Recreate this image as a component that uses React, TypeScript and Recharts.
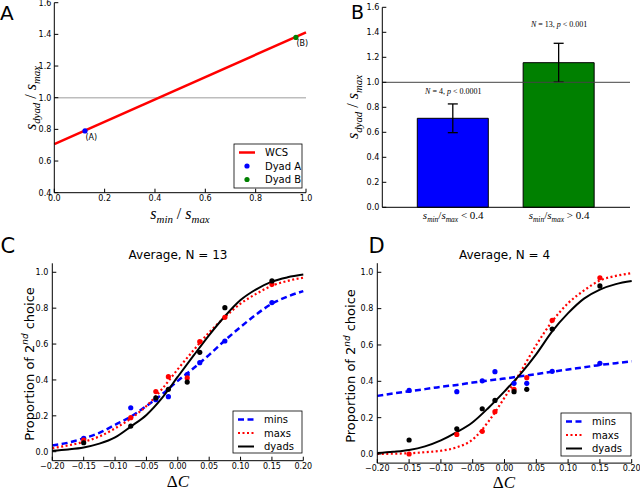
import React from 'react';
import {
  ComposedChart,
  BarChart,
  Bar,
  Cell,
  ErrorBar,
  Line,
  Scatter,
  XAxis,
  YAxis,
  ReferenceLine,
  ReferenceDot,
} from 'recharts';

// ---- panel A: s_dyad/s_max against s_min/s_max
const ratioTicks = [0, 0.2, 0.4, 0.6, 0.8, 1.0];
const dyadRatioTicks = [0.4, 0.6, 0.8, 1.0, 1.2, 1.4, 1.6];
const wcsX = [0, 1];
const wcsY = [0.707, 1.413];
const dyadA = [{ x: 0.122, y: 0.79, tag: '(A)' }];
const dyadB = [{ x: 0.96, y: 1.381, tag: '(B)' }];

// ---- panel B: group means
const groupNames = ['low', 'high'];
const groupRelation = ['<', '>'];
const groupMeans = [0.712, 1.157];
const groupErrors = [0.115, 0.155];
const groupNotes = ['N = 4, p < 0.0001', 'N = 13, p < 0.001'];
const groupNoteY = [0.906, 1.442];
const groupColors = ['#0000ff', '#008000'];
const barTicks = [0, 0.2, 0.4, 0.6, 0.8, 1.0, 1.2, 1.4, 1.6];

// ---- panels C and D: psychometric curves
const deltaTicks = [-0.2, -0.15, -0.1, -0.05, 0, 0.05, 0.1, 0.15, 0.2];
const propTicks = [0, 0.2, 0.4, 0.6, 0.8, 1.0];
const deltaC = [-0.15, -0.075, -0.035, -0.015, 0.015, 0.035, 0.075, 0.15];
const fitX = [
  -0.2, -0.175, -0.15, -0.125, -0.1, -0.075, -0.05, -0.025, 0,
  0.025, 0.05, 0.075, 0.1, 0.125, 0.15, 0.175, 0.2,
];

const cMins = [0.075, 0.245, 0.29, 0.307, 0.43, 0.496, 0.617, 0.831];
const cMaxs = [0.065, 0.19, 0.335, 0.418, 0.411, 0.613, 0.749, 0.933];
const cDyads = [0.05, 0.143, 0.3, 0.348, 0.388, 0.554, 0.803, 0.952];
const cMinsFit = [
  0.035, 0.05, 0.075, 0.105, 0.15, 0.195, 0.255, 0.32, 0.395,
  0.465, 0.54, 0.62, 0.695, 0.765, 0.825, 0.865, 0.895,
];
const cMaxsFit = [
  0.02, 0.035, 0.055, 0.085, 0.13, 0.185, 0.255, 0.35, 0.46,
  0.565, 0.665, 0.75, 0.825, 0.88, 0.925, 0.952, 0.97,
];
const cDyadsFit = [
  0.006, 0.013, 0.024, 0.045, 0.08, 0.14, 0.205, 0.3, 0.418,
  0.535, 0.65, 0.755, 0.845, 0.905, 0.948, 0.972, 0.987,
];

const dMins = [0.35, 0.343, 0.403, 0.453, 0.389, 0.389, 0.455, 0.499];
const dMaxs = [0.0, 0.108, 0.125, 0.233, 0.356, 0.42, 0.736, 0.97];
const dDyads = [0.077, 0.139, 0.249, 0.295, 0.343, 0.356, 0.688, 0.925];
const dMinsFit = [
  0.32, 0.333, 0.345, 0.357, 0.37, 0.38, 0.393, 0.405, 0.415,
  0.428, 0.44, 0.453, 0.465, 0.477, 0.49, 0.5, 0.51,
];
const dMaxsFit = [
  0.0, 0.002, 0.004, 0.01, 0.018, 0.037, 0.08, 0.18, 0.31,
  0.45, 0.6, 0.73, 0.83, 0.9, 0.955, 0.98, 0.995,
];
const dDyadsFit = [
  0.005, 0.012, 0.022, 0.042, 0.075, 0.12, 0.175, 0.255, 0.345,
  0.44, 0.55, 0.675, 0.775, 0.855, 0.905, 0.935, 0.952,
];

const seriesKeys = ['mins', 'maxs', 'dyads'];
const seriesStyle: Record<string, { color: string; dash?: string; width: number }> = {
  mins: { color: '#0000ff', dash: '6 3.5', width: 2.5 },
  maxs: { color: '#ff0000', dash: '2 2.5', width: 2.2 },
  dyads: { color: '#000000', width: 2 },
};

const sans = '"DejaVu Sans", sans-serif';
const serif = '"Liberation Serif", "DejaVu Serif", serif';
const tickStyle = { fontSize: 8, fill: '#000', fontFamily: sans };
const axisStroke = { stroke: '#000', strokeWidth: 1 };
const noLabel = () => '';

function pairs(xs: number[], ys: number[]) {
  return xs.map((x, i) => ({ x, y: ys[i] }));
}

function minus(v: number, digits: number) {
  return (v < 0 ? '\u2212' : '') + Math.abs(v).toFixed(digits);
}

type Part = { t: string; it?: boolean; sub?: boolean; sup?: boolean };

// mathtext-ish runs: sub/superscripts shift by dy and come back
function spans(parts: Part[], size: number) {
  let shift = 0;
  return parts.map((p, i) => {
    const want = p.sub ? size * 0.28 : p.sup ? -size * 0.42 : 0;
    const dy = want - shift;
    shift = want;
    return (
      <tspan
        key={i}
        dy={dy}
        fontSize={p.sub || p.sup ? size * 0.68 : size}
        fontStyle={p.it ? 'italic' : 'normal'}
      >
        {p.t}
      </tspan>
    );
  });
}

function ratio(top: string, bottom: string, gap = ' / '): Part[] {
  return [
    { t: 's', it: true },
    { t: top, it: true, sub: true },
    { t: gap },
    { t: 's', it: true },
    { t: bottom, it: true, sub: true },
  ];
}

function noteParts(note: string): Part[] {
  return note
    .split(/([A-Za-z])/)
    .filter((s) => s.length > 0)
    .map((s) => ({ t: s, it: /[A-Za-z]/.test(s) }));
}

const tagged = (color: string) => (props: any) => (
  <g>
    <circle cx={props.cx} cy={props.cy} r={2.6} fill={color} />
    <text x={props.cx + 0.5} y={props.cy + 9} fontSize={8} fontFamily={sans} fill="#000">
      {props.payload.tag}
    </text>
  </g>
);

const dot = (color: string) => (props: any) => (
  <circle cx={props.cx} cy={props.cy} r={2.6} fill={color} />
);

function PanelA() {
  return (
    <ComposedChart width={320} height={240} margin={{ top: 2.7, right: 14, bottom: 21.3, left: 0 }}>
      <XAxis
        type="number"
        dataKey="x"
        domain={[0, 1]}
        ticks={ratioTicks}
        interval={0}
        tickFormatter={(v) => v.toFixed(1)}
        tick={tickStyle}
        tickSize={-4}
        tickMargin={7}
        height={26}
        axisLine={axisStroke}
        tickLine={axisStroke}
      />
      <XAxis
        xAxisId="top"
        orientation="top"
        type="number"
        dataKey="x"
        domain={[0, 1]}
        ticks={ratioTicks}
        interval={0}
        tickFormatter={noLabel}
        tickSize={-4}
        height={0}
        axisLine={axisStroke}
        tickLine={axisStroke}
      />
      <YAxis
        type="number"
        domain={[0.4, 1.6]}
        ticks={dyadRatioTicks}
        interval={0}
        tickFormatter={(v) => v.toFixed(1)}
        tick={tickStyle}
        tickSize={-4}
        tickMargin={7}
        width={54.3}
        axisLine={axisStroke}
        tickLine={axisStroke}
      />
      <YAxis
        yAxisId="right"
        orientation="right"
        type="number"
        domain={[0.4, 1.6]}
        ticks={dyadRatioTicks}
        interval={0}
        tickFormatter={noLabel}
        tickSize={-4}
        width={0}
        axisLine={axisStroke}
        tickLine={axisStroke}
      />
      <ReferenceLine y={1} stroke="#bdbdbd" strokeWidth={1.5} />
      <Line
        data={pairs(wcsX, wcsY)}
        dataKey="y"
        type="linear"
        stroke="#ff0000"
        strokeWidth={2.5}
        dot={false}
        isAnimationActive={false}
      />
      <Scatter data={dyadA} dataKey="y" shape={tagged('#0000ff')} isAnimationActive={false} />
      <Scatter data={dyadB} dataKey="y" shape={tagged('#008000')} isAnimationActive={false} />
    </ComposedChart>
  );
}

function GroupTick(props: any) {
  const { x, y, payload } = props;
  const i = groupNames.indexOf(payload.value);
  const parts: Part[] = [...ratio('min', 'max', '/'), { t: ` ${groupRelation[i]} 0.4` }];
  return (
    <text x={x} y={y + 4} textAnchor="middle" fontFamily={serif} fill="#000" style={{ whiteSpace: 'pre' }}>
      {spans(parts, 11)}
    </text>
  );
}

function NoteLabel(props: any) {
  const vb = props.viewBox || {};
  const cx = (vb.x ?? 0) + (vb.width ?? 0) / 2;
  const cy = (vb.y ?? 0) + (vb.height ?? 0) / 2;
  return (
    <text x={cx} y={cy} textAnchor="middle" fontFamily={serif} fill="#000" style={{ whiteSpace: 'pre' }}>
      {spans(noteParts(props.note), 8)}
    </text>
  );
}

function PanelB() {
  const data = groupNames.map((name, i) => ({ name, mean: groupMeans[i], err: groupErrors[i] }));
  return (
    <BarChart width={320} height={240} data={data} margin={{ top: 7.3, right: 10, bottom: 6.7, left: 0 }}>
      <XAxis
        dataKey="name"
        padding={{ left: 18, right: 18 }}
        tick={<GroupTick />}
        tickLine={false}
        interval={0}
        height={26}
        axisLine={axisStroke}
      />
      <XAxis
        xAxisId="top"
        orientation="top"
        dataKey="name"
        padding={{ left: 18, right: 18 }}
        tickFormatter={noLabel}
        tickLine={false}
        height={0}
        axisLine={axisStroke}
      />
      <YAxis
        type="number"
        domain={[0, 1.6]}
        ticks={barTicks}
        interval={0}
        tickFormatter={(v) => v.toFixed(1)}
        tick={tickStyle}
        tickSize={-4}
        tickMargin={7}
        width={62.3}
        axisLine={axisStroke}
        tickLine={axisStroke}
      />
      <YAxis
        yAxisId="right"
        orientation="right"
        type="number"
        domain={[0, 1.6]}
        ticks={barTicks}
        interval={0}
        tickFormatter={noLabel}
        tickSize={-4}
        width={0}
        axisLine={axisStroke}
        tickLine={axisStroke}
      />
      <Bar dataKey="mean" barSize={71} stroke="#000" strokeWidth={1} isAnimationActive={false}>
        {data.map((d, i) => (
          <Cell key={d.name} fill={groupColors[i]} />
        ))}
        <ErrorBar dataKey="err" width={5} stroke="#000" strokeWidth={1.3} isAnimationActive={false} />
      </Bar>
      <ReferenceLine y={1} stroke="#444" strokeWidth={1} />
      {groupNames.map((g, i) => (
        <ReferenceDot
          key={g}
          x={g}
          y={groupNoteY[i]}
          r={0}
          fill="none"
          stroke="none"
          label={(p: any) => <NoteLabel {...p} note={groupNotes[i]} />}
        />
      ))}
    </BarChart>
  );
}

type PsychProps = {
  points: Record<string, number[]>;
  fits: Record<string, number[]>;
  margin: { top: number; right: number; bottom: number; left: number };
  yWidth: number;
};

function PsychPanel({ points, fits, margin, yWidth }: PsychProps) {
  return (
    <ComposedChart width={320} height={252} margin={margin}>
      <XAxis
        type="number"
        dataKey="x"
        domain={[-0.2, 0.2]}
        ticks={deltaTicks}
        interval={0}
        tickFormatter={(v) => minus(v, 2)}
        tick={tickStyle}
        tickSize={-4}
        tickMargin={6.5}
        height={26}
        axisLine={axisStroke}
        tickLine={axisStroke}
      />
      <XAxis
        xAxisId="top"
        orientation="top"
        type="number"
        dataKey="x"
        domain={[-0.2, 0.2]}
        ticks={deltaTicks}
        interval={0}
        tickFormatter={noLabel}
        tickSize={-4}
        height={0}
        axisLine={axisStroke}
        tickLine={axisStroke}
      />
      <YAxis
        type="number"
        domain={[-0.05, 1.05]}
        ticks={propTicks}
        interval={0}
        tickFormatter={(v) => v.toFixed(1)}
        tick={tickStyle}
        tickSize={-4}
        tickMargin={8}
        width={yWidth}
        axisLine={axisStroke}
        tickLine={axisStroke}
      />
      <YAxis
        yAxisId="right"
        orientation="right"
        type="number"
        domain={[-0.05, 1.05]}
        ticks={propTicks}
        interval={0}
        tickFormatter={noLabel}
        tickSize={-4}
        width={0}
        axisLine={axisStroke}
        tickLine={axisStroke}
      />
      {seriesKeys.map((k) => (
        <Scatter
          key={`p-${k}`}
          data={pairs(deltaC, points[k])}
          dataKey="y"
          shape={dot(seriesStyle[k].color)}
          isAnimationActive={false}
        />
      ))}
      {seriesKeys.map((k) => (
        <Line
          key={`f-${k}`}
          data={pairs(fitX, fits[k])}
          dataKey="y"
          type="monotone"
          stroke={seriesStyle[k].color}
          strokeWidth={seriesStyle[k].width}
          strokeDasharray={seriesStyle[k].dash}
          dot={false}
          isAnimationActive={false}
        />
      ))}
    </ComposedChart>
  );
}

type LegendItem = { label: string; kind: 'line' | 'dot'; color: string; dash?: string; width?: number };

function LegendBox({ x, y, w, h, items }: { x: number; y: number; w: number; h: number; items: LegendItem[] }) {
  return (
    <g>
      <rect x={x} y={y} width={w} height={h} fill="#fff" stroke="#000" strokeWidth={0.8} />
      {items.map((it, i) => {
        const ry = y + 8.5 + i * 13.5;
        return (
          <g key={it.label}>
            {it.kind === 'line' ? (
              <line
                x1={x + 5}
                x2={x + 21}
                y1={ry}
                y2={ry}
                stroke={it.color}
                strokeWidth={it.width ?? 2}
                strokeDasharray={it.dash}
              />
            ) : (
              <circle cx={x + 13} cy={ry} r={2.6} fill={it.color} />
            )}
            <text x={x + 31} y={ry + 3.6} fontSize={10} fontFamily={sans} fill="#000">
              {it.label}
            </text>
          </g>
        );
      })}
    </g>
  );
}

const legendA: LegendItem[] = [
  { label: 'WCS', kind: 'line', color: '#ff0000', width: 2.5 },
  { label: 'Dyad A', kind: 'dot', color: '#0000ff' },
  { label: 'Dyad B', kind: 'dot', color: '#008000' },
];

const legendCD: LegendItem[] = seriesKeys.map((k) => ({
  label: k,
  kind: 'line',
  color: seriesStyle[k].color,
  dash: seriesStyle[k].dash,
  width: seriesStyle[k].width,
}));

const proportionLabel: Part[] = [
  { t: 'Proportion of 2' },
  { t: 'nd', it: true, sup: true },
  { t: ' choice' },
];

function RotatedLabel({ x, y, parts, size, family }: { x: number; y: number; parts: Part[]; size: number; family: string }) {
  return (
    <text
      x={x}
      y={y}
      transform={`rotate(-90 ${x} ${y})`}
      textAnchor="middle"
      fontFamily={family}
      fill="#000"
      style={{ whiteSpace: 'pre' }}
    >
      {spans(parts, size)}
    </text>
  );
}

function Overlay() {
  return (
    <svg width={640} height={492} style={{ position: 'absolute', left: 0, top: 0, pointerEvents: 'none' }}>
      <g fontFamily={sans} fill="#000">
        <text x={0} y={20} fontSize={20}>A</text>
        <text x={351} y={18.5} fontSize={19}>B</text>
        <text x={0.5} y={253} fontSize={21}>C</text>
        <text x={368.5} y={252.5} fontSize={21}>D</text>
        <text x={178} y={258.5} fontSize={12} textAnchor="middle">Average, N = 13</text>
        <text x={504.5} y={258.5} fontSize={12} textAnchor="middle">Average, N = 4</text>
      </g>

      <RotatedLabel x={36} y={98} parts={ratio('dyad', 'max')} size={16} family={serif} />
      <text x={180} y={219} textAnchor="middle" fontFamily={serif} fill="#000" style={{ whiteSpace: 'pre' }}>
        {spans(ratio('min', 'max'), 16)}
      </text>
      <RotatedLabel x={358} y={107} parts={ratio('dyad', 'max')} size={16} family={serif} />
      <RotatedLabel x={33.5} y={364} parts={proportionLabel} size={13} family={sans} />
      <RotatedLabel x={355} y={366} parts={proportionLabel} size={13} family={sans} />

      <text x={178} y={487} textAnchor="middle" fontFamily={serif} fill="#000" fontSize={17}>
        <tspan>Δ</tspan>
        <tspan fontStyle="italic">C</tspan>
      </text>
      <text x={504} y={488} textAnchor="middle" fontFamily={serif} fill="#000" fontSize={17}>
        <tspan>Δ</tspan>
        <tspan fontStyle="italic">C</tspan>
      </text>

      <LegendBox x={234} y={144} w={68} h={44} items={legendA} />
      <LegendBox x={233} y={411} w={69} h={42} items={legendCD} />
      <LegendBox x={561} y={413} w={70} h={43} items={legendCD} />
    </svg>
  );
}

export default function App() {
  return (
    <div
      style={{
        position: 'absolute',
        left: 0,
        top: 0,
        width: 640,
        height: 492,
        background: '#fff',
        overflow: 'hidden',
        fontFamily: sans,
      }}
    >
      <div style={{ position: 'absolute', left: 0, top: 0 }}>
        <PanelA />
      </div>
      <div style={{ position: 'absolute', left: 320, top: 0 }}>
        <PanelB />
      </div>
      <div style={{ position: 'absolute', left: 0, top: 240 }}>
        <PsychPanel
          points={{ mins: cMins, maxs: cMaxs, dyads: cDyads }}
          fits={{ mins: cMinsFit, maxs: cMaxsFit, dyads: cDyadsFit }}
          margin={{ top: 23.3, right: 16.7, bottom: 5.3, left: 0 }}
          yWidth={52.3}
        />
      </div>
      <div style={{ position: 'absolute', left: 320, top: 240 }}>
        <PsychPanel
          points={{ mins: dMins, maxs: dMaxs, dyads: dDyads }}
          fits={{ mins: dMinsFit, maxs: dMaxsFit, dyads: dDyadsFit }}
          margin={{ top: 23.2, right: 8.3, bottom: 2.9, left: 0 }}
          yWidth={57.3}
        />
      </div>
      <Overlay />
    </div>
  );
}
